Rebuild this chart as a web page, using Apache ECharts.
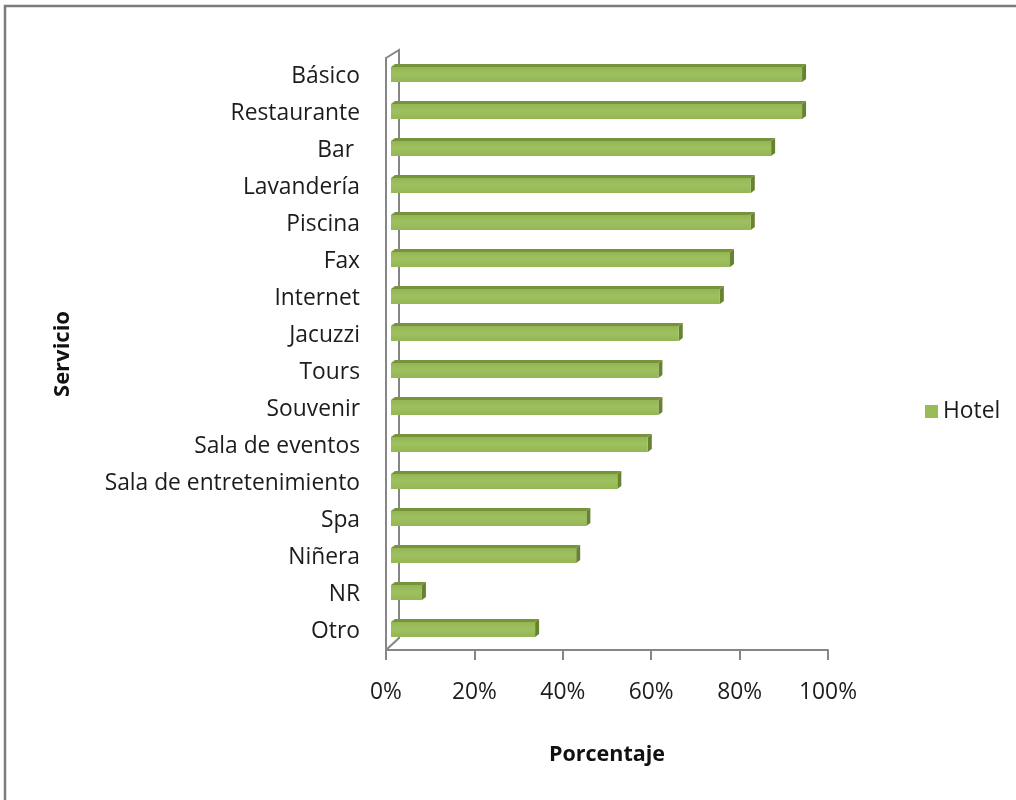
<!DOCTYPE html>
<html>
<head>
<meta charset="utf-8">
<script src="https://cdn.jsdelivr.net/npm/echarts@6/dist/echarts.min.js"></script>
<style>
  html, body { margin: 0; padding: 0; background: #fff; }
  #chart { width: 1016px; height: 800px; }
</style>
</head>
<body>
<div id="chart"></div>
<script>
// Services offered by hotels, share of establishments (%)
const categories = [
  'Básico', 'Restaurante', 'Bar ', 'Lavandería', 'Piscina', 'Fax', 'Internet',
  'Jacuzzi', 'Tours', 'Souvenir', 'Sala de eventos', 'Sala de entretenimiento',
  'Spa', 'Niñera', 'NR', 'Otro'
];
const hotelValues = [93.0, 93.0, 86.0, 81.4, 81.4, 76.7, 74.4, 65.1, 60.5, 60.5, 58.1, 51.2, 44.2, 41.9, 7.0, 32.6];
const xTicks = [0, 20, 40, 60, 80, 100];
const seriesName = 'Hotel';

const FONT = '"Open Sans", sans-serif';
const LABEL_SIZE = 22.8;
const GRID = { left: 386, top: 58, width: 442, height: 592 };
const DEPTH_X = 13, DEPTH_Y = 12;     // back-wall offset of the 3D frame
const BAR_SHIFT_X = 5, BAR_SHIFT_Y = -2; // bar position inside the depth
const BAR_H = 15, FACE_DX = 4, FACE_DY = 3;

const COLORS = { front: '#9BBB59', top: '#77933C', side: '#68832F', frame: '#868686', text: '#1c1c1c' };

function renderBar(params, api) {
  const idx = api.value(1);
  const v = api.value(0);
  const start = api.coord([0, idx]);
  const end = api.coord([v, idx]);
  const x0 = start[0] + BAR_SHIFT_X;
  const x1 = end[0] + BAR_SHIFT_X;
  const yt = start[1] + BAR_SHIFT_Y - BAR_H / 2;
  const yb = yt + BAR_H;
  return {
    type: 'group',
    children: [
      {
        type: 'polygon',
        shape: { points: [[x0, yt], [x1, yt], [x1 + FACE_DX, yt - FACE_DY], [x0 + FACE_DX, yt - FACE_DY]] },
        style: { fill: COLORS.top }
      },
      {
        type: 'polygon',
        shape: { points: [[x1, yt], [x1 + FACE_DX, yt - FACE_DY], [x1 + FACE_DX, yb - FACE_DY], [x1, yb]] },
        style: { fill: COLORS.side }
      },
      {
        type: 'rect',
        shape: { x: x0, y: yt, width: x1 - x0, height: BAR_H },
        style: {
          fill: new echarts.graphic.LinearGradient(0, 0, 0, 1, [
            { offset: 0, color: '#93B553' },
            { offset: 0.45, color: '#9FC05E' },
            { offset: 1, color: '#95B655' }
          ])
        }
      }
    ]
  };
}

const chart = echarts.init(document.getElementById('chart'), null, { renderer: 'canvas' });

const gx = GRID.left, gy = GRID.top, gb = GRID.top + GRID.height;

chart.setOption({
  backgroundColor: '#ffffff',
  animation: false,
  textStyle: { fontFamily: FONT },
  grid: { left: GRID.left, top: GRID.top, width: GRID.width, height: GRID.height, containLabel: false },
  legend: {
    data: [seriesName],
    left: 920,
    top: 395,
    itemWidth: 13,
    itemHeight: 13,
    itemGap: 8,
    icon: 'rect',
    textStyle: { fontFamily: FONT, fontSize: LABEL_SIZE, color: COLORS.text }
  },
  xAxis: {
    type: 'value',
    min: xTicks[0],
    max: xTicks[xTicks.length - 1],
    interval: xTicks[1] - xTicks[0],
    name: 'Porcentaje',
    nameLocation: 'middle',
    nameGap: 94,
    nameTextStyle: { fontFamily: FONT, fontSize: 21.5, fontWeight: 'bold', color: '#111' },
    axisLine: { show: true, lineStyle: { color: COLORS.frame, width: 2 } },
    axisTick: { show: true, length: 10, lineStyle: { color: COLORS.frame, width: 2 } },
    splitLine: { show: false },
    axisLabel: {
      formatter: '{value}%',
      margin: 31,
      fontFamily: FONT,
      fontSize: LABEL_SIZE,
      color: COLORS.text
    }
  },
  yAxis: {
    type: 'category',
    data: categories,
    inverse: true,
    name: 'Servicio',
    nameLocation: 'middle',
    nameGap: 312,
    nameRotate: 90,
    nameTextStyle: { fontFamily: FONT, fontSize: 22, fontWeight: 'bold', color: '#111' },
    axisLine: { show: true, lineStyle: { color: COLORS.frame, width: 2 } },
    axisTick: { show: false },
    splitLine: { show: false },
    axisLabel: {
      margin: 26,
      padding: [11, 0, 0, 0],
      fontFamily: FONT,
      fontSize: LABEL_SIZE,
      color: COLORS.text
    }
  },
  graphic: [
    {
      // outer chart-area frame
      type: 'rect',
      shape: { x: 5, y: 6, width: 1100, height: 900 },
      style: { fill: 'none', stroke: '#7c7c7c', lineWidth: 2.5 },
      silent: true
    },
    {
      // back wall edge and its joins to the front axes
      type: 'polyline',
      shape: { points: [[gx, gy], [gx + DEPTH_X, gy - DEPTH_Y + 4], [gx + DEPTH_X, gb - DEPTH_Y], [gx, gb]] },
      style: { fill: 'none', stroke: COLORS.frame, lineWidth: 2 },
      silent: true
    }
  ],
  series: [
    {
      name: seriesName,
      type: 'custom',
      renderItem: renderBar,
      itemStyle: { color: COLORS.front },
      encode: { x: 0, y: 1 },
      data: hotelValues.map((v, i) => [v, i]),
      clip: false
    }
  ]
});
</script>
</body>
</html>
